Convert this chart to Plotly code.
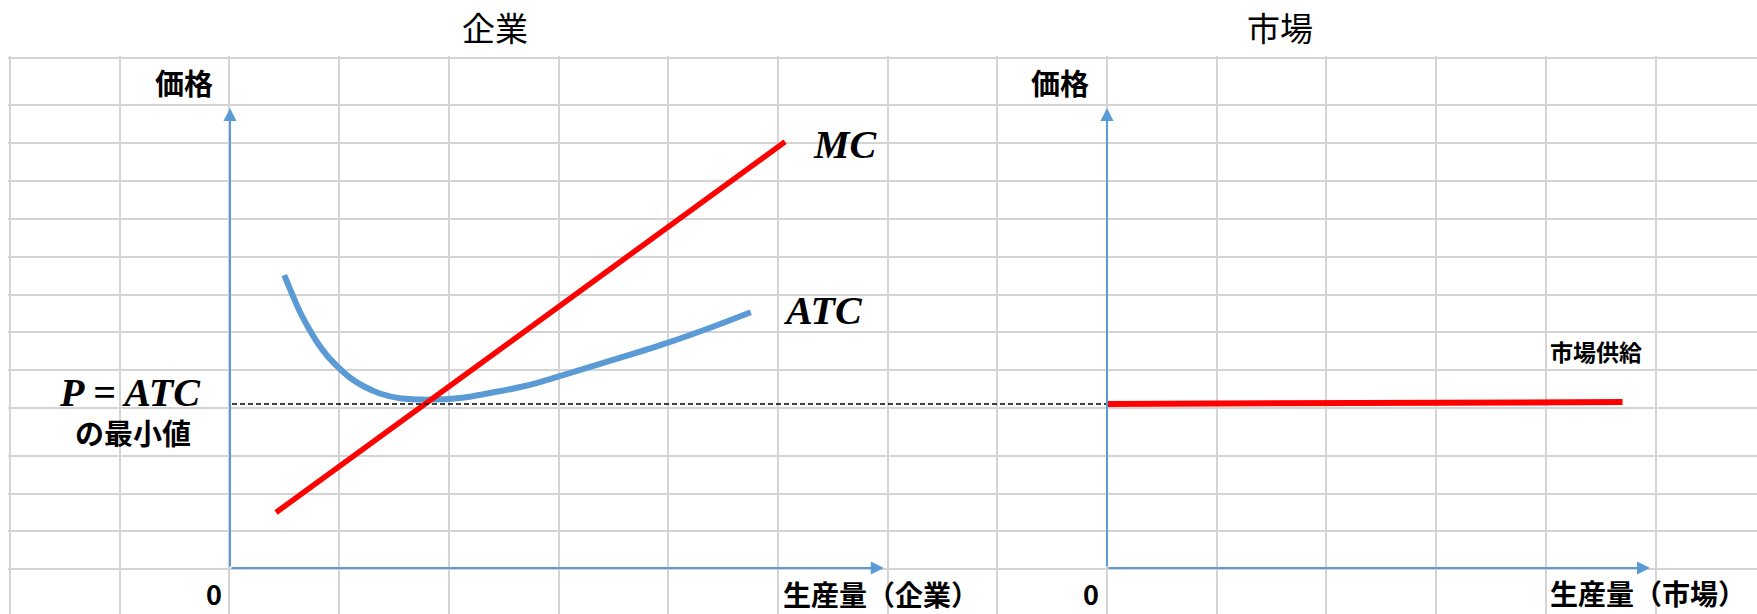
import plotly.graph_objects as go

# ---------------- data (economic units) ----------------
# firm: marginal cost (straight line)
mc_q = [0.42, 5.06]
mc_p = [1.45, 11.12]

# firm: average total cost (U-shaped)
atc_q = [0.495, 0.570, 0.638, 0.711, 0.793, 0.884, 0.989, 1.098, 1.222, 1.367,
         1.550, 1.823, 2.097, 2.370, 2.689, 2.990, 3.491, 3.993, 4.403, 4.747]
atc_p = [7.644, 7.122, 6.679, 6.288, 5.896, 5.544, 5.231, 4.957, 4.735, 4.553,
         4.427, 4.393, 4.435, 4.566, 4.748, 4.991, 5.427, 5.881, 6.295, 6.671]

# price = minimum of ATC
p_min = 4.28

# market: long-run supply (almost flat)
supply_q = [0.0, 4.70]
supply_p = [4.28, 4.33]

# axis extents (arrow tips)
firm_axis_q, firm_axis_p = 5.96, 12.0
market_axis_q, market_axis_p = 4.95, 12.0

# texts
titles = ["企業", "市場"]
price_label = "価格"
qty_labels = ["生産量（企業）", "生産量（市場）"]
origin_label = "0"
curve_labels = ["MC", "ATC"]
pmin_labels = ["P = ATC", "の最小値"]
supply_label = "市場供給"

# ---------------- layout constants ----------------
W, H = 1757, 614
FIRM_OX, MKT_OX, OY = 230.0, 1107.0, 568.0   # origins in px
UX, UY = 109.7, 38.33                        # px per unit
BLUE = "#5b9bd5"
RED = "#ff0000"
GRID = "#d4d4d4"
CJK = "Noto Sans CJK JP"
SERIF = "Liberation Serif"

# spreadsheet-like cell grid
col_edges = [10 + 109.7 * k for k in range(16)]
row_heights = [47.3] + [37.9] * 8 + [47.4] + [37.9] * 3
row_edges = [57.7]
for h in row_heights:
    row_edges.append(row_edges[-1] + h)

fig = go.Figure()

# background grid subplot (pixel units)
fig.add_trace(go.Scatter(x=[None], y=[None], xaxis="x", yaxis="y",
                         showlegend=False, hoverinfo="skip"))

# firm curves
fig.add_trace(go.Scatter(x=atc_q, y=atc_p, mode="lines", xaxis="x2", yaxis="y2",
                         line=dict(color=BLUE, width=6, shape="spline", smoothing=1.0),
                         showlegend=False, hoverinfo="skip"))
fig.add_trace(go.Scatter(x=mc_q, y=mc_p, mode="lines", xaxis="x2", yaxis="y2",
                         line=dict(color=RED, width=5.5),
                         showlegend=False, hoverinfo="skip"))
# market supply
fig.add_trace(go.Scatter(x=supply_q, y=supply_p, mode="lines", xaxis="x3", yaxis="y3",
                         line=dict(color=RED, width=6),
                         showlegend=False, hoverinfo="skip"))

hidden = dict(visible=False, domain=[0, 1], fixedrange=True)
fig.update_layout(
    width=W, height=H,
    margin=dict(l=0, r=0, t=0, b=0, pad=0),
    paper_bgcolor="white", plot_bgcolor="rgba(0,0,0,0)",
    xaxis=dict(range=[8, W], domain=[8 / W, 1], tickvals=col_edges, showgrid=True,
               gridcolor=GRID, gridwidth=1.6, showticklabels=False, ticks="",
               zeroline=False, showline=False, fixedrange=True),
    yaxis=dict(range=[H, 56], domain=[0, 1 - 56 / H], tickvals=row_edges, showgrid=True,
               gridcolor=GRID, gridwidth=1.6, showticklabels=False, ticks="",
               zeroline=False, showline=False, fixedrange=True),
    xaxis2=dict(range=[-FIRM_OX / UX, (W - FIRM_OX) / UX], anchor="y2", **hidden),
    yaxis2=dict(range=[(OY - H) / UY, OY / UY], anchor="x2", **hidden),
    xaxis3=dict(range=[-MKT_OX / UX, (W - MKT_OX) / UX], anchor="y3", **hidden),
    yaxis3=dict(range=[(OY - H) / UY, OY / UY], anchor="x3", **hidden),
)

# dashed line from firm price axis to market price axis at P = min ATC
fig.add_shape(type="line", xref="paper", yref="y2",
              x0=(FIRM_OX + 2) / W, x1=MKT_OX / W, y0=p_min, y1=p_min,
              line=dict(color="#000000", width=1.5, dash="5px,3px"))

ann = []
# axes with arrows
for xr, yr, qmax, pmax in [("x2", "y2", firm_axis_q, firm_axis_p),
                           ("x3", "y3", market_axis_q, market_axis_p)]:
    for hx, hy in [(0, pmax), (qmax, 0)]:
        ann.append(dict(x=hx, y=hy, ax=0, ay=0, xref=xr, yref=yr, axref=xr, ayref=yr,
                        text="", showarrow=True, arrowhead=2, arrowsize=1.3,
                        arrowwidth=2, arrowcolor=BLUE, standoff=0))


def txt(text, px, py, size, xanchor="center", bold=True, family=CJK, italic=False):
    return dict(text=text, x=px / W, y=1 - py / H, xref="paper", yref="paper",
                xanchor=xanchor, yanchor="middle", showarrow=False,
                font=dict(family=family, size=size, color="black",
                          weight="bold" if bold else "normal",
                          style="italic" if italic else "normal"))


ann += [
    txt(titles[0], 494.5, 27, 33, bold=False),
    txt(titles[1], 1280, 27, 33, bold=False),
    txt(price_label, 215, 82, 29, xanchor="right"),
    txt(price_label, 1091, 82, 29, xanchor="right"),
    txt(origin_label, 224, 593, 27, xanchor="right"),
    txt(origin_label, 1101, 593, 27, xanchor="right"),
    txt(qty_labels[0], 781, 594, 28, xanchor="left"),
    txt(qty_labels[1], 1548, 593, 28, xanchor="left"),
    txt(supply_label, 1548, 351, 23, xanchor="left"),
    txt(curve_labels[0], 845, 144, 40, family=SERIF, italic=True),
    txt(curve_labels[1], 823, 310, 40, family=SERIF, italic=True),
    txt(pmin_labels[0], 130, 393, 40, family=SERIF, italic=True),
    txt(pmin_labels[1], 133, 432, 29),
]
fig.update_layout(annotations=ann)

fig.write_html("out.html", config={"displayModeBar": False},
               post_script="document.body.style.margin='0';")
